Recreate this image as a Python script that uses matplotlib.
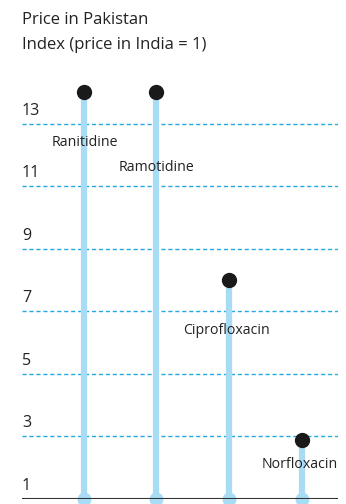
import matplotlib.pyplot as plt

drugs = ["Ranitidine", "Ramotidine", "Ciprofloxacin", "Norfloxacin"]
price_index = [14.0, 14.0, 8.0, 2.9]
gridlines = [3, 5, 7, 9, 11, 13]
tick_labels = [1, 3, 5, 7, 9, 11, 13]

# where each drug name sits, in data units (x offset, y)
name_pos = [(0.02, 12.4), (0.0, 11.6), (-0.03, 6.4), (-0.03, 2.1)]

plt.rcParams['font.family'] = ['Open Sans', 'DejaVu Sans']

fig = plt.figure(figsize=(3.46, 5.04), dpi=100)
W, H = 346, 504
ax = fig.add_axes([22 / W, 5 / H, 316 / W, 438 / H])
ax.set_xlim(-0.85, 3.5)
ax.set_ylim(1, 15)
ax.axis("off")

stem_color = "#a8dcf5"
grid_color = "#27aae1"

for v in gridlines:
    ax.axhline(v, color=grid_color, lw=1.0, ls=(0, (3, 2)), zorder=1)
ax.axhline(1, color="#333333", lw=1.5, zorder=3)

for v in tick_labels:
    ax.text(-0.85, v + 0.16, str(v), fontsize=11.5, color="#222222",
            ha="left", va="bottom")

xs = range(len(drugs))
for x, v in zip(xs, price_index):
    ax.plot([x, x], [1, v], color=stem_color, lw=4.5, solid_capstyle="butt", zorder=2)
    ax.plot(x, v, "o", color="#1a1a1a", ms=10, zorder=4)
    ax.plot(x, 1, "o", color=stem_color, ms=9, zorder=2, clip_on=False)

for (dx, y), x, name in zip(name_pos, xs, drugs):
    ax.text(x + dx, y, name, fontsize=10.2, color="#222222", ha="center",
            va="center")

fig.text(22 / W, 1 - 20 / H, "Price in Pakistan", fontsize=12, color="#222222", va="center")
fig.text(22 / W, 1 - 45 / H, "Index (price in India = 1)", fontsize=12, color="#222222", va="center")

fig.savefig("out.png", dpi=100)
